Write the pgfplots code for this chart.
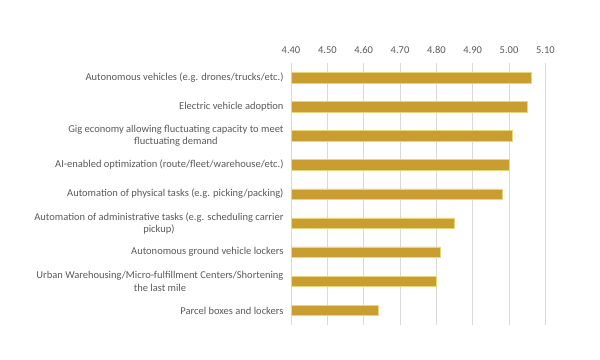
\documentclass[border=0pt]{standalone}
\usepackage{fontspec}
\setmainfont{Carlito}
\usepackage{pgfplots}
\pgfplotsset{compat=1.18}
\definecolor{barc}{RGB}{201,157,48}
\definecolor{txt}{RGB}{89,89,89}
\definecolor{gridc}{RGB}{217,217,217}
\begin{document}
\begin{tikzpicture}
\path[use as bounding box] (0,0) rectangle (600bp,360bp);
\begin{axis}[
  at={(291bp,35bp)}, anchor=south west,
  scale only axis, width=254.4bp, height=262bp,
  xbar, bar width=10.5bp, bar shift=0pt,
  xmin=4.4, xmax=5.1, enlargelimits=false,
  ymin=-0.5, ymax=8.5, y dir=reverse,
  xtick={4.4,4.5,4.6,4.7,4.8,4.9,5.0,5.1},
  xticklabel pos=right,
  /pgf/number format/fixed, /pgf/number format/fixed zerofill, /pgf/number format/precision=2, /pgf/number format/assume math mode=true,
  ytick={0,...,8},
  yticklabels={
    {Autonomous vehicles (e.g. drones/trucks/etc.)},
    {Electric vehicle adoption},
    {Gig economy allowing fluctuating capacity to meet\\fluctuating demand},
    {AI-enabled optimization (route/fleet/warehouse/etc.)},
    {Automation of physical tasks (e.g. picking/packing)},
    {Automation of administrative tasks (e.g. scheduling carrier\\pickup)},
    {Autonomous ground vehicle lockers},
    {Urban Warehousing/Micro-fulfillment Centers/Shortening\\the last mile},
    {Parcel boxes and lockers}},
  yticklabel style={align=center, font=\fontsize{10.5bp}{12.2bp}\selectfont, text=txt},
  xticklabel style={font=\fontsize{10.5bp}{12bp}\selectfont, text=txt},
  major tick length=0pt,
  tick style={draw=none},
  axis line style={draw=none},
  xmajorgrids, grid style={draw=gridc, line width=0.8pt},
  yticklabel shift=4bp, xticklabel shift=6bp,
]
\addplot[fill=barc, draw=barc!70!yellow!60!white, line width=0.4pt] coordinates {
 (5.06,0) (5.05,1) (5.01,2) (5.00,3) (4.98,4) (4.85,5) (4.81,6) (4.80,7) (4.64,8)};
\end{axis}
\end{tikzpicture}
\end{document}
